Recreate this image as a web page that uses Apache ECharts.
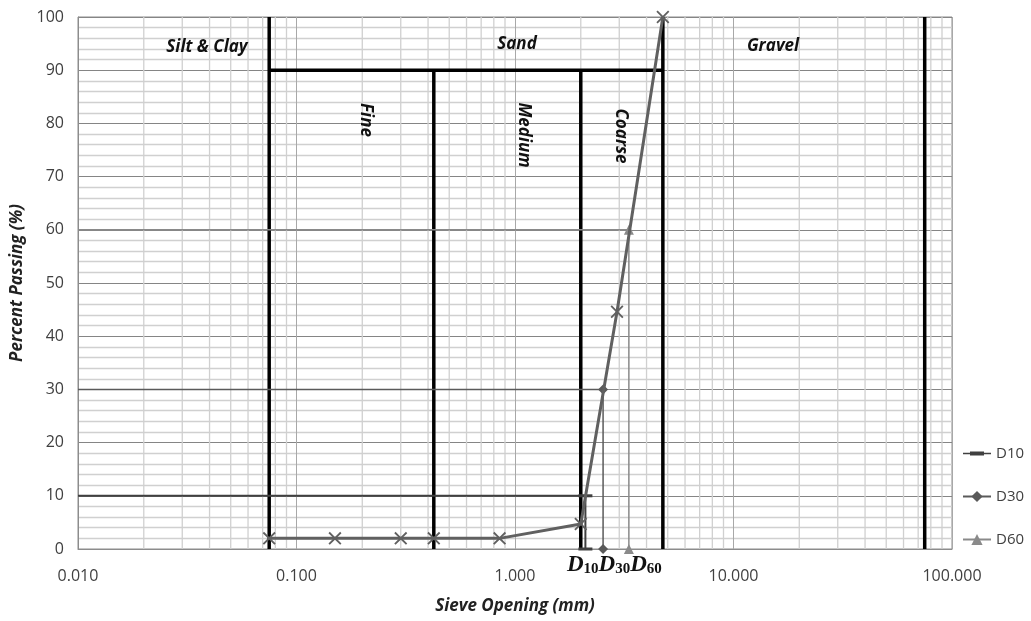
<!DOCTYPE html>
<html><head><meta charset="utf-8">
<script src="https://cdn.jsdelivr.net/npm/echarts@6/dist/echarts.min.js"></script>
<style>html,body{margin:0;padding:0;background:#fff}#c{width:1031px;height:621px}</style>
</head><body><div id="c"></div>
<script>
// ---- data ----
const sieveSizes = [0.075, 0.15, 0.3, 0.425, 0.85, 2.0, 2.93, 4.75];
const percentPassing = [2, 2, 2, 2, 2, 4.7, 44.6, 100];
const dNames = ['D10', 'D30', 'D60'];
const dValues = [2.1, 2.53, 3.32];
const dLevels = [10, 30, 60];
const boundarySizes = [0.075, 0.425, 2.0, 4.75, 75];
const boundaryTops = [100, 90, 90, 100, 100];
const sandBarEnds = [0.075, 4.75];
const sandBarLevel = 90;
const xMin = 0.01, xMax = 100;
const decades = [0.01, 0.1, 1, 10];
const minorMultipliers = [2, 3, 4, 5, 6, 7, 8, 9];
const zoneLabels = ['Silt & Clay', 'Sand', 'Gravel'];
const sandLabels = ['Fine', 'Medium', 'Coarse'];

const minorX = [];
decades.forEach(d => minorMultipliers.forEach(m => minorX.push(+(d * m).toPrecision(3))));

const FONT = 'Open Sans';
const dColors = ['#404040', '#5a5a5a', '#8a8a8a'];
const dSymbols = ['rect', 'diamond', 'triangle'];
const dSizes = [[14, 3], 10, 10];
const dWidths = [2, 1.5, 1.5];
const dashIcon = 'path://M0,0H0.01V0.01H0Z M27.99,13.99H28V14H27.99Z M0,6.2H28V7.8H0Z M7,5H21V9H7Z';

const dSeries = dNames.map((n, i) => ({
  name: n, type: 'line', z: 5,
  symbol: dSymbols[i], symbolSize: dSizes[i],
  lineStyle: { color: dColors[i], width: dWidths[i] },
  itemStyle: { color: dColors[i] },
  data: [
    { value: [xMin, dLevels[i]], symbol: 'none' },
    [dValues[i], dLevels[i]],
    [dValues[i], 0]
  ]
}));

const labelStyle = { fontFamily: FONT, fontSize: 17, fontWeight: 'bold', fontStyle: 'italic', fill: '#111', align: 'center', verticalAlign: 'middle' };
const zonePos = [[207, 47], [517, 44], [773, 46]];
const sandPos = [[366, 120], [524, 135], [621, 136]];

const chart = echarts.init(document.getElementById('c'));
chart.setOption({
  animation: false,
  textStyle: { fontFamily: FONT },
  grid: { left: 78, right: 79, top: 17, bottom: 72, show: true, borderColor: '#8c8c8c', borderWidth: 1, outerBoundsMode: 'none', containLabel: false },
  legend: {
    data: dNames.map((n, i) => i === 0 ? { name: n, icon: dashIcon } : n),
    orient: 'vertical', left: 957, top: 441, itemGap: 28,
    itemWidth: 28, itemHeight: 14,
    textStyle: { fontFamily: FONT, fontSize: 15, color: '#404040' }
  },
  xAxis: {
    type: 'log', logBase: 10, min: xMin, max: xMax,
    name: 'Sieve Opening (mm)', nameLocation: 'middle', nameGap: 49,
    nameTextStyle: { fontFamily: FONT, fontSize: 17, fontWeight: 'bold', fontStyle: 'italic', color: '#222' },
    axisLine: { lineStyle: { color: '#8c8c8c' } },
    axisTick: { show: false },
    axisLabel: { fontSize: 16, color: '#404040', margin: 19, formatter: v => Number(v).toFixed(3) },
    splitLine: { show: true, lineStyle: { color: '#a8a8a8', width: 1 } }
  },
  yAxis: {
    type: 'value', min: 0, max: 100, interval: 10,
    name: 'Percent Passing (%)', nameLocation: 'middle', nameGap: 50,
    nameTextStyle: { fontFamily: FONT, fontSize: 17, fontWeight: 'bold', fontStyle: 'italic', color: '#222' },
    axisLine: { show: true, lineStyle: { color: '#8c8c8c' } },
    axisTick: { show: false },
    axisLabel: { fontSize: 16, color: '#404040', margin: 14 },
    splitLine: { lineStyle: { color: '#858585', width: 1 } },
    minorTick: { show: false, splitNumber: 5 },
    minorSplitLine: { show: true, lineStyle: { color: '#d0d0d0', width: 1.3 } }
  },
  series: [
    {
      type: 'custom', name: 'minorX', z: 1, silent: true,
      data: minorX.map(v => [v, 0]),
      renderItem: (p, api) => {
        const a = api.coord([api.value(0), 0]), b = api.coord([api.value(0), 100]);
        return { type: 'line', shape: { x1: a[0], y1: a[1], x2: b[0], y2: b[1] }, style: { stroke: '#d0d0d0', lineWidth: 1.3 } };
      }
    },
    {
      type: 'custom', name: 'bounds', z: 3, silent: true,
      data: boundarySizes.map((v, i) => [v, boundaryTops[i]]),
      renderItem: (p, api) => {
        const a = api.coord([api.value(0), 0]), b = api.coord([api.value(0), api.value(1)]);
        return { type: 'line', shape: { x1: a[0], y1: a[1], x2: b[0], y2: b[1] }, style: { stroke: '#000', lineWidth: 3.5 } };
      }
    },
    {
      type: 'line', name: 'sandBar', z: 3, silent: true, symbol: 'none',
      lineStyle: { color: '#000', width: 3.5 },
      data: sandBarEnds.map(v => [v, sandBarLevel])
    },
    ...dSeries,
    {
      type: 'line', name: 'Gradation', z: 6,
      symbol: 'path://M0,1L1,0L5,4L9,0L10,1L6,5L10,9L9,10L5,6L1,10L0,9L4,5Z', symbolSize: 13,
      lineStyle: { color: '#606060', width: 3 },
      itemStyle: { color: '#606060' },
      data: sieveSizes.map((s, i) => [s, percentPassing[i]])
    }
  ],
  graphic: [
    ...zoneLabels.map((t, i) => ({ type: 'text', x: zonePos[i][0], y: zonePos[i][1], z: 100, style: Object.assign({ text: t }, labelStyle) })),
    ...sandLabels.map((t, i) => ({ type: 'text', x: sandPos[i][0], y: sandPos[i][1], z: 100, rotation: -Math.PI / 2, style: Object.assign({ text: t }, labelStyle) })),
    { type: 'text', x: 567, y: 552, z: 100, style: {
      text: '{d|D}{s|10}{d|D}{s|30}{d|D}{s|60}',
      rich: {
        d: { fontFamily: 'Liberation Serif', fontStyle: 'italic', fontWeight: 'bold', fontSize: 23, fill: '#111', verticalAlign: 'bottom', lineHeight: 25 },
        s: { fontFamily: 'Liberation Serif', fontWeight: 'bold', fontSize: 15, fill: '#111', verticalAlign: 'bottom', lineHeight: 18 }
      }
    } }
  ]
});
</script></body></html>
